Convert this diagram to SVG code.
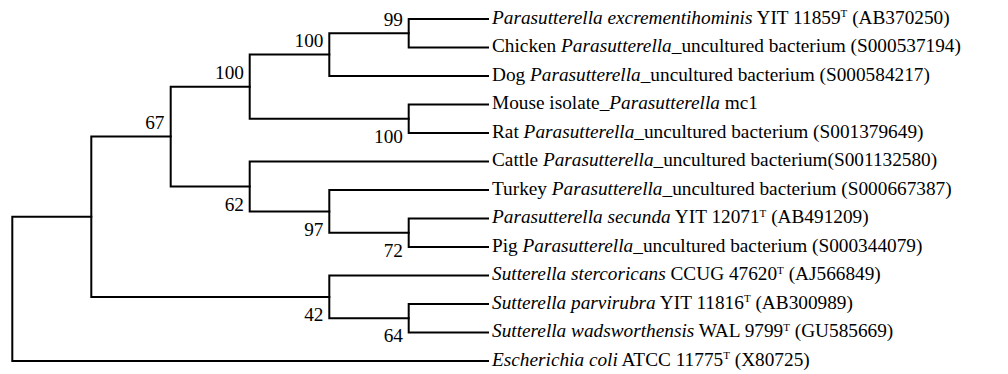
<svg xmlns="http://www.w3.org/2000/svg" width="1008" height="374" viewBox="0 0 1008 374">
  <style>
    .br { fill: none; stroke: #000; stroke-width: 2; stroke-linejoin: miter; stroke-linecap: square; }
    text { font-family: 'Liberation Serif', 'Times New Roman', Times, serif; font-size: 19.3px; fill: #000; }
    .bs { text-anchor: end; }
    .it { font-style: italic; }
    .sup { font-size: 11px; }
  </style>
  <rect width="1008" height="374" fill="#fff"/>

  <!-- tree branches -->
  <g id="connectors">
    <!-- node A (99) -->
    <path class="br" d="M488 19 H408.7 V47.5 H488"/>
    <!-- node B (100) -->
    <path class="br" d="M408.7 33.25 H329.3 V76 H488"/>
    <!-- node C (100, mouse/rat) -->
    <path class="br" d="M488 104.5 H408.7 V133 H488"/>
    <!-- node D (100) -->
    <path class="br" d="M329.3 54.6 H249.7 V118.75 H408.7"/>
    <!-- node E (72) -->
    <path class="br" d="M488 218.5 H408.7 V247 H488"/>
    <!-- node F (97) -->
    <path class="br" d="M488 190 H329.3 V232.75 H408.7"/>
    <!-- node G (62) -->
    <path class="br" d="M488 161.5 H249.7 V211.4 H329.3"/>
    <!-- node H (67) -->
    <path class="br" d="M249.7 86.7 H170.7 V186.4 H249.7"/>
    <!-- node I (64) -->
    <path class="br" d="M488 304 H408.7 V332.5 H488"/>
    <!-- node J (42) -->
    <path class="br" d="M488 275.5 H329.3 V318.25 H408.7"/>
    <!-- node K -->
    <path class="br" d="M170.7 136.5 H91.3 V296.9 H329.3"/>
    <!-- root -->
    <path class="br" d="M91.3 216.7 H12.3 V361 H488"/>
  </g>

  <!-- bootstrap support values -->
  <g id="node-A"><text class="bs" x="403" y="25.5">99</text></g>
  <g id="node-B"><text class="bs" x="323.5" y="47">100</text></g>
  <g id="node-C"><text class="bs" x="403" y="142.5">100</text></g>
  <g id="node-D"><text class="bs" x="244" y="79">100</text></g>
  <g id="node-H"><text class="bs" x="164.5" y="129">67</text></g>
  <g id="node-G"><text class="bs" x="244" y="210.5">62</text></g>
  <g id="node-F"><text class="bs" x="323.5" y="235.5">97</text></g>
  <g id="node-E"><text class="bs" x="403" y="256.5">72</text></g>
  <g id="node-J"><text class="bs" x="323.5" y="320.5">42</text></g>
  <g id="node-I"><text class="bs" x="403" y="342">64</text></g>

  <!-- taxa -->
  <g id="leaf-1"><text x="492" y="23.5"><tspan class="it">Parasutterella excrementihominis</tspan> YIT 11859<tspan class="sup" dy="-6.5">T</tspan><tspan dy="6.5"> (AB370250)</tspan></text></g>
  <g id="leaf-2"><text x="492" y="52">Chicken <tspan class="it">Parasutterella</tspan>_uncultured bacterium (S000537194)</text></g>
  <g id="leaf-3"><text x="492" y="80.5">Dog <tspan class="it">Parasutterella</tspan>_uncultured bacterium (S000584217)</text></g>
  <g id="leaf-4"><text x="492" y="109">Mouse isolate_<tspan class="it">Parasutterella</tspan> mc1</text></g>
  <g id="leaf-5"><text x="492" y="137.5">Rat <tspan class="it">Parasutterella</tspan>_uncultured bacterium (S001379649)</text></g>
  <g id="leaf-6"><text x="492" y="166">Cattle <tspan class="it">Parasutterella</tspan>_uncultured bacterium(S001132580)</text></g>
  <g id="leaf-7"><text x="492" y="194.5">Turkey <tspan class="it">Parasutterella</tspan>_uncultured bacterium (S000667387)</text></g>
  <g id="leaf-8"><text x="492" y="223"><tspan class="it">Parasutterella secunda</tspan> YIT 12071<tspan class="sup" dy="-6.5">T</tspan><tspan dy="6.5"> (AB491209)</tspan></text></g>
  <g id="leaf-9"><text x="492" y="251.5">Pig <tspan class="it">Parasutterella</tspan>_uncultured bacterium (S000344079)</text></g>
  <g id="leaf-10"><text x="492" y="280"><tspan class="it">Sutterella stercoricans</tspan> CCUG 47620<tspan class="sup" dy="-6.5">T</tspan><tspan dy="6.5"> (AJ566849)</tspan></text></g>
  <g id="leaf-11"><text x="492" y="308.5"><tspan class="it">Sutterella parvirubra</tspan> YIT 11816<tspan class="sup" dy="-6.5">T</tspan><tspan dy="6.5"> (AB300989)</tspan></text></g>
  <g id="leaf-12"><text x="492" y="337"><tspan class="it">Sutterella wadsworthensis</tspan> WAL 9799<tspan class="sup" dy="-6.5">T</tspan><tspan dy="6.5"> (GU585669)</tspan></text></g>
  <g id="leaf-13"><text x="492" y="365.5"><tspan class="it">Escherichia coli</tspan> ATCC 11775<tspan class="sup" dy="-6.5">T</tspan><tspan dy="6.5"> (X80725)</tspan></text></g>
</svg>
